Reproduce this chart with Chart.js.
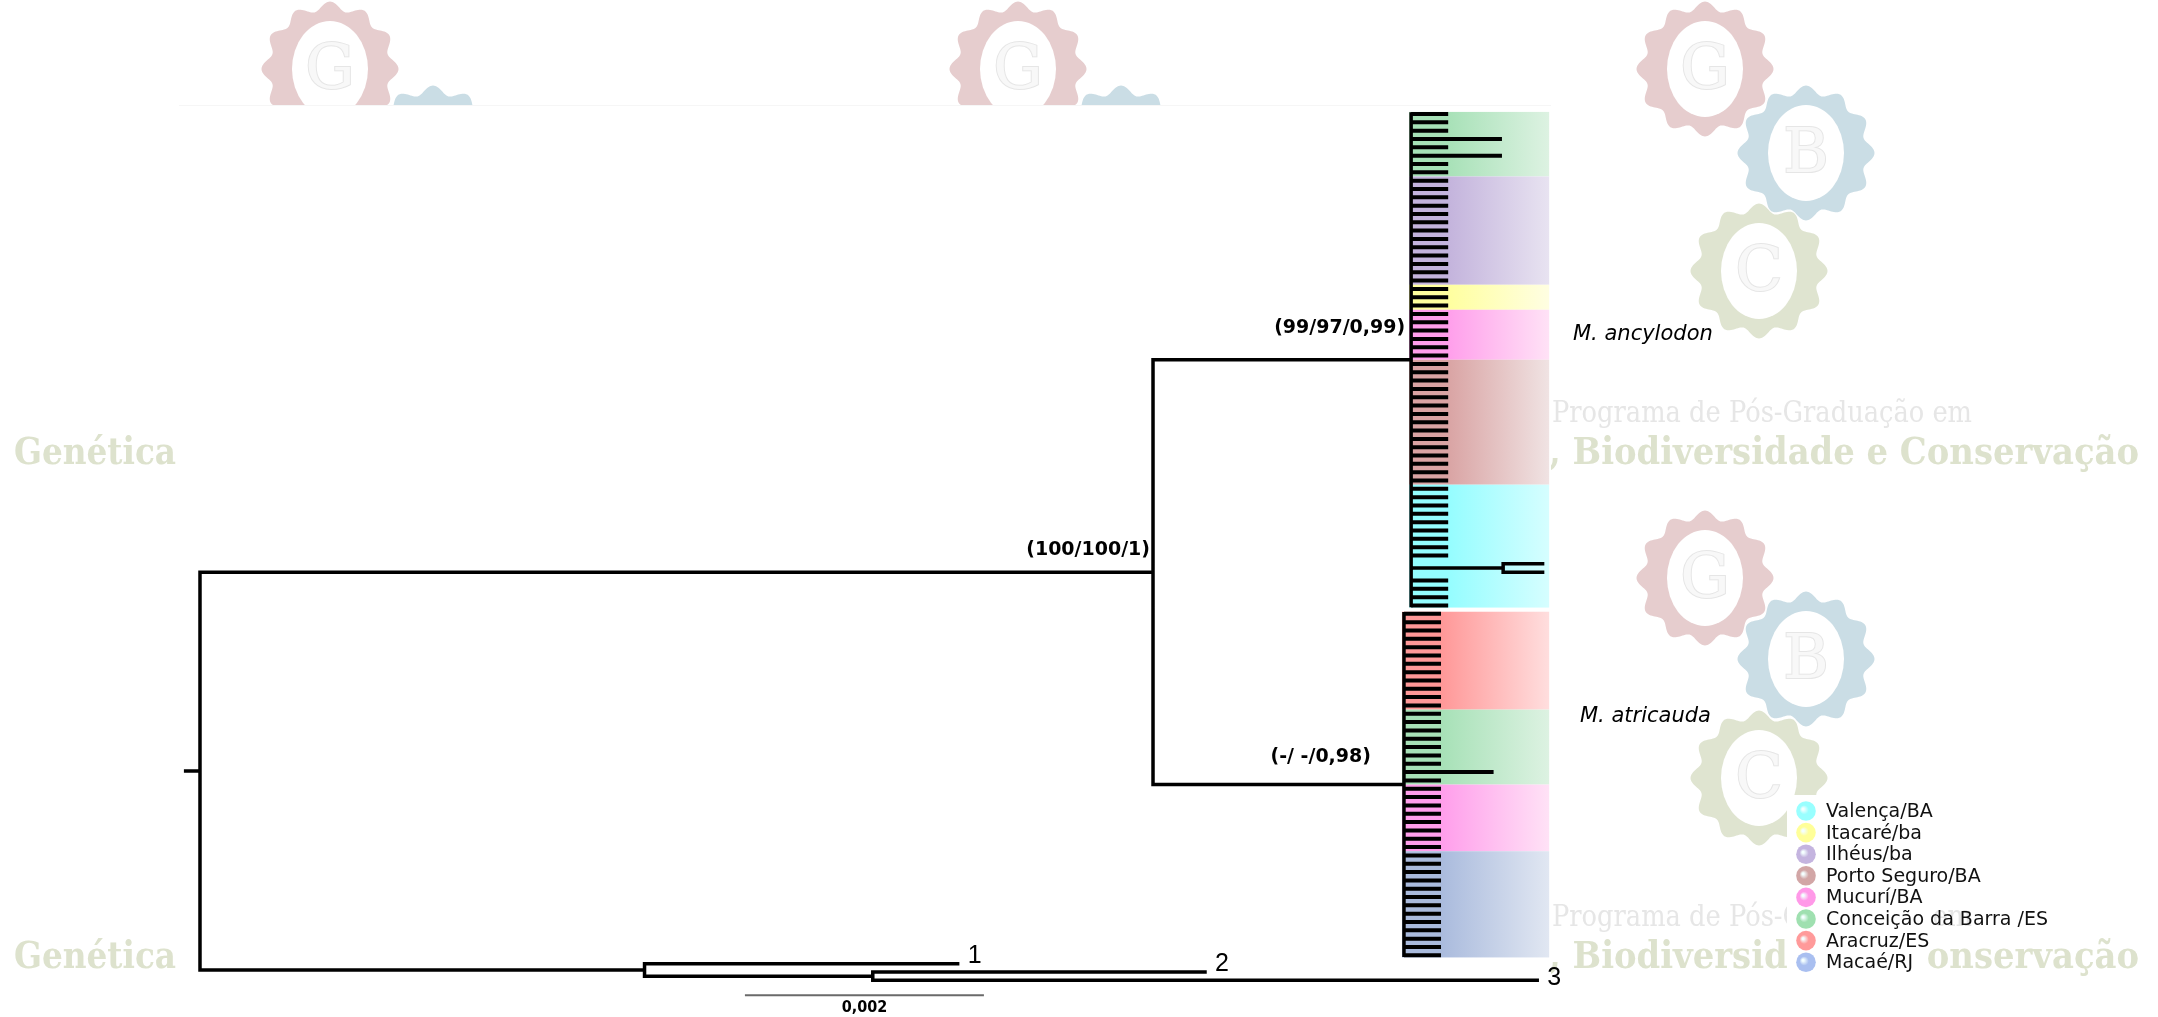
<!DOCTYPE html>
<html>
<head>
<meta charset="utf-8">
<script src="https://cdn.jsdelivr.net/npm/chart.js@4.4.1/dist/chart.umd.min.js"></script>
<style>
  html, body { margin: 0; padding: 0; background: #fff; }
  #wrap { width: 2158px; height: 1017px; }
</style>
</head>
<body>
<div id="wrap"><canvas id="tree" width="2158" height="1017"></canvas></div>
<script>
// Populações (ordem da legenda) e cores das faixas
const populations = ['Valença/BA', 'Itacaré/ba', 'Ilhéus/ba', 'Porto Seguro/BA', 'Mucurí/BA', 'Conceição da Barra /ES', 'Aracruz/ES', 'Macaé/RJ'];
const popStrong = ['#94fdff', '#ffff9e', '#c3b3dc', '#d9a3a3', '#ff9eeb', '#a7e1b7', '#ff9898', '#aabbdd'];
const popPale   = ['#d6feff', '#fffee2', '#e8e3f1', '#f0e3e3', '#ffe2f6', '#ddf2e2', '#ffdede', '#e1e7f2'];
const legendDots = ['#99ffff', '#ffff99', '#c4b4df', '#d2a6a6', '#ff99e8', '#9fe0b0', '#ff9a9a', '#a9bff0'];

// Blocos de terminais, de cima para baixo (índice da população, nº de terminais)
const ancylodonPops   = [5, 2, 1, 4, 3, 0];
const ancylodonCounts = [8, 13, 3, 6, 15, 15];
const atricaudaPops   = [6, 5, 4, 7];
const atricaudaCounts = [12, 9, 8, 13];

// Comprimentos de ramo (substituições/sítio)
const stemLen = 0.007975;
const ancylodonLen = 0.00216;
const atricaudaLen = 0.00210;
const tipLen = 0.00031;
const ancylodonLong = [3, 5];
const ancylodonLongLen = 0.00076;
const atricaudaLong = [19];
const atricaudaLongLen = 0.00075;
const cyanPair = [54, 55];
const cyanPairStem = 0.00077;
const cyanPairTip = 0.00033;
const outLen = 0.00372;
const out1Len = 0.00262;
const out23Len = 0.00191;
const out2Len = 0.00278;
const out3Len = 0.00556;
const rootStub = 0.00012;

// Textos
const nodeSupport = ['(100/100/1)', '(99/97/0,99)', '(-/ -/0,98)'];
const cladeNames = ['M. ancylodon', 'M. atricauda'];
const outgroupNames = ['1', '2', '3'];
const scaleLen = 0.002;
const scaleLabel = '0,002';

// posição da barra de escala e fim das faixas (coordenadas do gráfico)
const scaleBarX = 0.00456;
const scaleBarY = 105.8;
const bandEnd = 0.01129;

// ---- montagem da árvore ----
const branchPts = [];
const tipPts = [];
function seg(arr, x0, y0, x1, y1) {
    arr.push({x: x0, y: y0}, {x: x1, y: y1}, {x: null, y: null});
}
const sum = a => a.reduce((s, v) => s + v, 0);

const nA = sum(ancylodonCounts);
const nB = sum(atricaudaCounts);
const xIn = stemLen;
const xA = stemLen + ancylodonLen;
const xB = stemLen + atricaudaLen;
const yA = (nA - 1) / 2;
const yB = (nA + nA + nB - 1) / 2;
const yIn = (yA + yB) / 2;
const t1 = nA + nB;
const yP = t1 + 1.5;
const yO = (t1 + yP) / 2;
const yRoot = (yIn + yO) / 2;

// raiz
seg(branchPts, -rootStub, yRoot, 0, yRoot);
seg(branchPts, 0, yIn, 0, yO);
seg(branchPts, 0, yIn, xIn, yIn);
seg(branchPts, 0, yO, outLen, yO);
// grupo interno
seg(branchPts, xIn, yA, xIn, yB);
seg(branchPts, xIn, yA, xA, yA);
seg(branchPts, xIn, yB, xB, yB);
seg(branchPts, xA, 0, xA, nA - 1);
seg(branchPts, xB, nA, xB, nA + nB - 1);

for (let i = 0; i < nA; i++) {
    if (cyanPair.includes(i)) continue;
    const len = ancylodonLong.includes(i) ? ancylodonLongLen : tipLen;
    seg(tipPts, xA, i, xA + len, i);
}
const yc = (cyanPair[0] + cyanPair[1]) / 2;
const xc = xA + cyanPairStem;
seg(branchPts, xA, yc, xc, yc);
seg(branchPts, xc, cyanPair[0], xc, cyanPair[1]);
cyanPair.forEach(i => seg(branchPts, xc, i, xc + cyanPairTip, i));

for (let j = 0; j < nB; j++) {
    const len = atricaudaLong.includes(j) ? atricaudaLongLen : tipLen;
    seg(tipPts, xB, nA + j, xB + len, nA + j);
}

// grupo externo
seg(branchPts, outLen, t1, outLen, yP);
seg(branchPts, outLen, t1, outLen + out1Len, t1);
const xP = outLen + out23Len;
seg(branchPts, outLen, yP, xP, yP);
seg(branchPts, xP, t1 + 1, xP, t1 + 2);
seg(branchPts, xP, t1 + 1, xP + out2Len, t1 + 1);
seg(branchPts, xP, t1 + 2, xP + out3Len, t1 + 2);
const outTips = [[outLen + out1Len, t1], [xP + out2Len, t1 + 1], [xP + out3Len, t1 + 2]];

const scalePts = [{x: scaleBarX, y: scaleBarY}, {x: scaleBarX + scaleLen, y: scaleBarY}];

// faixas coloridas
function makeBands(pops, counts, start, x0) {
    const out = [];
    let k = start;
    pops.forEach((p, b) => {
        const first = k, last = k + counts[b] - 1;
        out.push({
            pop: p, x0: x0,
            y0: b === 0 ? first - 0.25 : first - 0.5,
            y1: b === pops.length - 1 ? last + 0.25 : last + 0.5
        });
        k += counts[b];
    });
    return out;
}
const bands = makeBands(ancylodonPops, ancylodonCounts, 0, xA)
    .concat(makeBands(atricaudaPops, atricaudaCounts, nA, xB));

// ---- desenho auxiliar ----
function gear(ctx, cx, cy, color, letter) {
    ctx.beginPath();
    for (let i = 0; i <= 360; i++) {
        const t = i / 360 * Math.PI * 2;
        const r = 1 + 0.07 * Math.cos(12 * t);
        const px = cx + 64 * r * Math.sin(t), py = cy - 63 * r * Math.cos(t);
        if (i) ctx.lineTo(px, py); else ctx.moveTo(px, py);
    }
    ctx.closePath();
    ctx.fillStyle = color;
    ctx.fill();
    ctx.beginPath();
    ctx.ellipse(cx, cy, 38, 48, 0, 0, Math.PI * 2);
    ctx.fillStyle = '#fff';
    ctx.fill();
    ctx.font = '62px "DejaVu Serif"';
    ctx.textAlign = 'center';
    ctx.textBaseline = 'middle';
    ctx.lineWidth = 2;
    ctx.strokeStyle = '#e6e6e6';
    ctx.strokeText(letter, cx, cy + 3);
    ctx.fillStyle = '#f8f8f8';
    ctx.fillText(letter, cx, cy + 3);
}

const backdrop = {
    id: 'backdrop',
    beforeDraw(chart) {
        const ctx = chart.ctx;
        ctx.save();
        ctx.fillStyle = '#fff';
        ctx.fillRect(0, 0, chart.width, chart.height);
        // marca d'água
        const G = '#e6cdce', B = '#cadde5', C = '#dfe4d0';
        [[330, 69, G, 'G'], [1018, 69, G, 'G'], [433, 153, B, 'B'], [1121, 153, B, 'B'],
         [1705, 69, G, 'G'], [1806, 153, B, 'B'], [1759, 271, C, 'C'],
         [1705, 578, G, 'G'], [1806, 659, B, 'B'], [1759, 778, C, 'C']]
            .forEach(g => gear(ctx, g[0], g[1], g[2], g[3]));
        ctx.textAlign = 'left';
        ctx.textBaseline = 'middle';
        [0, 504].forEach(dy => {
            ctx.fillStyle = '#dde2cd';
            ctx.font = 'bold 38px "DejaVu Serif"';
            ctx.fillText('Genética', 14, 454 + dy, 162);
            ctx.fillText(', Biodiversidade e Conservação', 1549, 454 + dy, 590);
            ctx.fillStyle = '#e6e6e6';
            ctx.font = '30px "DejaVu Serif"';
            ctx.fillText('Programa de Pós-Graduação em', 1552, 414 + dy, 420);
        });
        // área branca sob a árvore
        ctx.fillStyle = '#fff';
        ctx.fillRect(179, 106, 1372, 911);
        ctx.fillStyle = '#f6f6f6';
        ctx.fillRect(179, 105, 1372, 1);
        // fundo da legenda
        ctx.fillStyle = '#fff';
        ctx.fillRect(1787, 795, 140, 180);
        ctx.restore();
    },
    beforeDatasetsDraw(chart) {
        const ctx = chart.ctx, xs = chart.scales.x, ys = chart.scales.y;
        const right = xs.getPixelForValue(bandEnd);
        ctx.save();
        bands.forEach(b => {
            const left = xs.getPixelForValue(b.x0) - 2;
            const top = ys.getPixelForValue(b.y0), bot = ys.getPixelForValue(b.y1);
            const g = ctx.createLinearGradient(left, 0, right, 0);
            g.addColorStop(0, popStrong[b.pop]);
            g.addColorStop(0.27, popStrong[b.pop]);
            g.addColorStop(1, popPale[b.pop]);
            ctx.fillStyle = g;
            ctx.fillRect(left, top, right - left, bot - top);
        });
        ctx.restore();
    },
    afterDatasetsDraw(chart) {
        const ctx = chart.ctx, xs = chart.scales.x, ys = chart.scales.y;
        const px = v => xs.getPixelForValue(v), py = v => ys.getPixelForValue(v);
        ctx.save();
        ctx.fillStyle = '#000';
        // suportes dos nós
        ctx.font = 'bold 19px "DejaVu Sans"';
        ctx.textAlign = 'right';
        ctx.textBaseline = 'middle';
        ctx.fillText(nodeSupport[0], px(xIn) - 3, py(yIn) - 22);
        ctx.fillText(nodeSupport[1], px(xA) - 6, py(yA) - 32);
        ctx.fillText(nodeSupport[2], px(xB) - 33, py(yB) - 28);
        // nomes dos clados
        ctx.font = 'italic 21px "DejaVu Sans"';
        ctx.textAlign = 'left';
        ctx.fillText(cladeNames[0], 1573, py(yA) - 25);
        ctx.fillText(cladeNames[1], 1580, py(yB) - 68);
        // terminais do grupo externo
        ctx.font = '25px "Liberation Sans Narrow", "Liberation Sans"';
        ctx.textBaseline = 'alphabetic';
        outTips.forEach((t, i) => ctx.fillText(outgroupNames[i], px(t[0]) + 10, py(t[1]) - 1 + (i === 2 ? 6 : 0)));
        // barra de escala
        ctx.font = 'bold 16px "DejaVu Sans Condensed", "DejaVu Sans"';
        ctx.textAlign = 'center';
        ctx.textBaseline = 'middle';
        ctx.fillText(scaleLabel, px(scaleBarX + scaleLen / 2), py(scaleBarY) + 13);
        // legenda
        ctx.font = '19px "DejaVu Sans"';
        ctx.textAlign = 'left';
        populations.forEach((name, i) => {
            const cy = 811 + i * 21.6;
            const g = ctx.createRadialGradient(1803, cy - 2, 1, 1806, cy, 10);
            g.addColorStop(0, '#f4ffff');
            g.addColorStop(0.4, legendDots[i]);
            g.addColorStop(1, legendDots[i]);
            ctx.beginPath();
            ctx.arc(1806, cy, 9.8, 0, Math.PI * 2);
            ctx.fillStyle = g;
            ctx.fill();
            ctx.fillStyle = '#111';
            ctx.fillText(name, 1826, cy + 1);
        });
        ctx.restore();
    }
};

const treeChart = new Chart(document.getElementById('tree'), {
    type: 'scatter',
    data: {
        datasets: [
            {
                label: 'tips',
                data: tipPts,
                showLine: true,
                borderColor: '#000',
                borderWidth: 4,
                borderCapStyle: 'butt',
                pointRadius: 0,
                spanGaps: false
            },
            {
                label: 'branches',
                data: branchPts,
                showLine: true,
                borderColor: '#000',
                borderWidth: 3.5,
                borderCapStyle: 'square',
                pointRadius: 0,
                spanGaps: false
            },
            {
                label: 'scale',
                data: scalePts,
                showLine: true,
                borderColor: '#6a6a6a',
                borderWidth: 2,
                pointRadius: 0
            }
        ]
    },
    options: {
        responsive: false,
        animation: false,
        events: [],
        layout: { padding: 0 },
        plugins: { legend: { display: false }, tooltip: { enabled: false } },
        scales: {
            x: { type: 'linear', display: false, min: -0.0016736, max: 0.0163849 },
            y: { type: 'linear', display: false, reverse: true, min: -13.685, max: 108.40 }
        }
    },
    plugins: [backdrop]
});
</script>
</body>
</html>
